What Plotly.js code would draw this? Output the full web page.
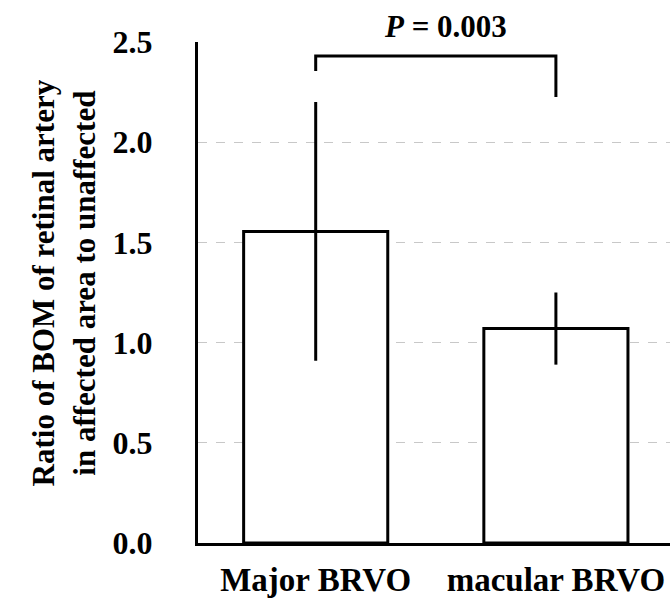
<!DOCTYPE html>
<html>
<head>
<meta charset="utf-8">
<script src="https://cdn.plot.ly/plotly-3.0.1.min.js"></script>
<style>html,body{margin:0;padding:0;background:#fff;}#chart{width:670px;height:600px;}</style>
</head>
<body>
<div id="chart"></div>
<script>
// Data
var categories = ['Major BRVO', 'macular BRVO'];
var ratioMeans = [1.555, 1.07];
var ratioSD = [0.645, 0.18];
var yTickValues = [0, 0.5, 1.0, 1.5, 2.0, 2.5];
var yTickLabels = ['0.0', '0.5', '1.0', '1.5', '2.0', '2.5'];
var bracketX = ['Major BRVO', 'Major BRVO', 'macular BRVO', 'macular BRVO'];
var bracketY = [2.355, 2.43, 2.43, 2.225];
var pValueText = '<i>P</i> = 0.003';
var yTitleText = 'Ratio of BOM of retinal artery<br>in affected area to unaffected';

var FONT = 'Liberation Serif, Times New Roman, serif';

var barTrace = {
  type: 'bar',
  x: categories,
  y: ratioMeans,
  width: 0.6,
  marker: { color: '#ffffff', line: { color: '#000000', width: 3 } },
  error_y: { type: 'data', array: ratioSD, visible: true, color: '#000000', thickness: 3, width: 0 },
  hoverinfo: 'skip',
  showlegend: false
};

var bracketTrace = {
  type: 'scatter',
  mode: 'lines',
  x: bracketX,
  y: bracketY,
  line: { color: '#000000', width: 3 },
  cliponaxis: false,
  hoverinfo: 'skip',
  showlegend: false
};

var layout = {
  width: 670,
  height: 600,
  margin: { l: 198, r: 0, t: 42, b: 57 },
  paper_bgcolor: '#ffffff',
  plot_bgcolor: '#ffffff',
  font: { family: FONT, color: '#000000' },
  xaxis: {
    type: 'category',
    range: [-0.49, 1.475],
    showline: true, linecolor: '#000000', linewidth: 3,
    showgrid: false, zeroline: false, ticks: '',
    tickfont: { family: FONT, size: 33, weight: 'bold', color: '#000000' },
    ticklabelstandoff: 5,
    fixedrange: true
  },
  yaxis: {
    range: [0, 2.5],
    tickvals: yTickValues,
    ticktext: yTickLabels,
    showline: true, linecolor: '#000000', linewidth: 3,
    showgrid: true, gridcolor: '#c8c8c8', gridwidth: 1, griddash: 'dash',
    zeroline: false, ticks: '',
    tickfont: { family: FONT, size: 32, weight: 'bold', color: '#000000' },
    ticklabelstandoff: 36,
    fixedrange: true
  },
  annotations: [
    {
      xref: 'x', yref: 'paper', x: 0.54, y: 1.03,
      text: pValueText, showarrow: false,
      xanchor: 'center', yanchor: 'middle',
      font: { family: FONT, size: 31, weight: 'bold', color: '#000000' }
    },
    {
      xref: 'paper', yref: 'paper', x: -0.284, y: 0.52,
      text: yTitleText, showarrow: false, textangle: -90,
      xanchor: 'center', yanchor: 'middle',
      font: { family: FONT, size: 31, weight: 'bold', color: '#000000' }
    }
  ],
  showlegend: false
};

Plotly.newPlot('chart', [barTrace, bracketTrace], layout, { displayModeBar: false, staticPlot: true });
</script>
</body>
</html>
